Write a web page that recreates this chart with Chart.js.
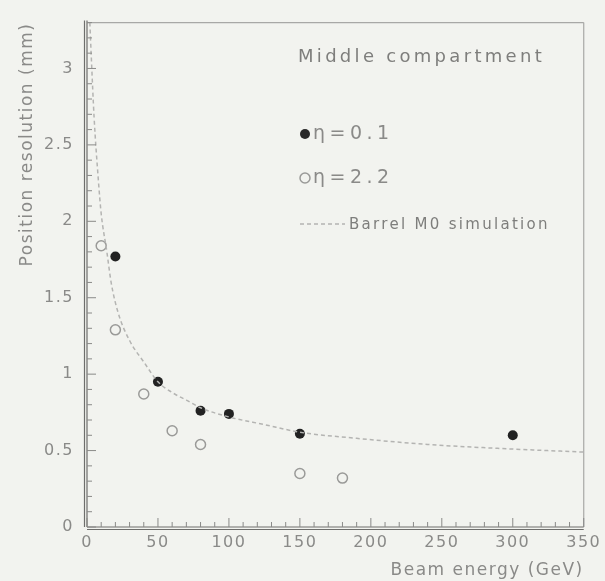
<!DOCTYPE html>
<html>
<head>
<meta charset="utf-8">
<script src="https://cdn.jsdelivr.net/npm/chart.js@4"></script>
<style>
  html, body { margin: 0; padding: 0; background: #f2f3ef; }
  canvas { display: block; }
</style>
</head>
<body>
<canvas id="myChart" width="605" height="581"></canvas>
<script>
// eta = 0.1 (filled points)
const energyFilled = [20, 50, 80, 100, 150, 300];
const resFilled = [1.77, 0.95, 0.76, 0.74, 0.61, 0.60];

// eta = 2.2 (open points)
const energyOpen = [10, 20, 40, 60, 80, 150, 180];
const resOpen = [1.84, 1.29, 0.87, 0.63, 0.54, 0.35, 0.32];

// Barrel M0 simulation curve
const simEnergy = [2, 3, 5, 8, 10, 14, 17, 22, 30, 40, 50, 60, 70, 80, 100, 125, 150, 190, 240, 300, 350];
const simRes = [3.30, 3.08, 2.68, 2.27, 2.05, 1.80, 1.60, 1.40, 1.22, 1.08, 0.95, 0.88, 0.83, 0.78, 0.72, 0.67, 0.62, 0.58, 0.54, 0.51, 0.49];

const xTicks = [0, 50, 100, 150, 200, 250, 300, 350];
const yTicks = [0, 0.5, 1, 1.5, 2, 2.5, 3];

const toPoints = (xs, ys) => xs.map((x, i) => ({x: x, y: ys[i]}));

const textColor = '#8a8a88';
const fontFamily = '"DejaVu Sans", sans-serif';

// frame, inner ticks and the legend box text
const framePlugin = {
    id: 'frame',
    beforeDraw(chart) {
        // canvas resize resets the context, so set spacing here
        chart.ctx.letterSpacing = '1.5px';
    },
    afterDraw(chart) {
        const ctx = chart.ctx;
        const a = chart.chartArea;
        const xs = chart.scales.x, ys = chart.scales.y;
        ctx.save();
        ctx.letterSpacing = '0px';
        // frame
        ctx.strokeStyle = '#a8a8a6';
        ctx.lineWidth = 1.2;
        ctx.beginPath();
        ctx.moveTo(a.left, a.top); ctx.lineTo(a.right, a.top);
        ctx.moveTo(a.right, a.top); ctx.lineTo(a.right, a.bottom);
        ctx.stroke();
        ctx.strokeStyle = '#6e6e6c';
        ctx.beginPath();
        ctx.moveTo(a.left, a.top - 2); ctx.lineTo(a.left, a.bottom);
        ctx.moveTo(a.left - 2.5, a.top - 2); ctx.lineTo(a.left - 2.5, a.bottom);
        ctx.moveTo(a.left, a.bottom); ctx.lineTo(a.right, a.bottom);
        ctx.moveTo(a.left, a.bottom + 2.5); ctx.lineTo(a.right, a.bottom + 2.5);
        ctx.stroke();
        // ticks drawn inside the frame
        ctx.strokeStyle = '#8a8a88';
        ctx.lineWidth = 1;
        ctx.beginPath();
        for (let v = 0; v <= 350; v += 10) {
            const px = xs.getPixelForValue(v);
            const len = v % 50 === 0 ? 9 : 5;
            ctx.moveTo(px, a.bottom); ctx.lineTo(px, a.bottom - len);
        }
        for (let k = 0; k <= 33; k++) {
            const py = ys.getPixelForValue(k / 10);
            const len = k % 5 === 0 ? 9 : 5;
            ctx.moveTo(a.left, py); ctx.lineTo(a.left + len, py);
        }
        ctx.stroke();

        // legend
        ctx.fillStyle = '#7e7e7c';
        ctx.textBaseline = 'middle';
        ctx.textAlign = 'left';
        ctx.font = '18px ' + fontFamily;
        ctx.letterSpacing = '3.3px';
        ctx.fillText('Middle compartment', 298, 57);

        ctx.fillStyle = '#2a2a2a';
        ctx.beginPath(); ctx.arc(305, 134, 5, 0, Math.PI * 2); ctx.fill();
        ctx.strokeStyle = '#9a9a98'; ctx.lineWidth = 1.5;
        ctx.beginPath(); ctx.arc(305, 178, 5, 0, Math.PI * 2); ctx.stroke();

        ctx.fillStyle = '#8a8a88';
        ctx.font = '19px ' + fontFamily;
        ctx.letterSpacing = '4.5px';
        ctx.fillText('\u03b7=0.1', 313, 134);
        ctx.fillText('\u03b7=2.2', 313, 178);

        ctx.strokeStyle = '#b4b4b2'; ctx.lineWidth = 1.5;
        ctx.setLineDash([4, 3]);
        ctx.beginPath(); ctx.moveTo(300, 224); ctx.lineTo(345, 224); ctx.stroke();
        ctx.setLineDash([]);
        ctx.font = '15px ' + fontFamily;
        ctx.letterSpacing = '2.3px';
        ctx.fillStyle = '#7e7e7c';
        ctx.fillText('Barrel M0 simulation', 349, 225);
        ctx.restore();
    }
};

const ctx = document.getElementById('myChart').getContext('2d');
const chart = new Chart(ctx, {
    type: 'scatter',
    data: {
        datasets: [{
            label: 'Barrel M0 simulation',
            data: toPoints(simEnergy, simRes),
            showLine: true,
            borderColor: '#b4b4b2',
            borderWidth: 1.5,
            borderDash: [4, 3],
            cubicInterpolationMode: 'monotone',
            pointRadius: 0
        }, {
            label: '\u03b7=0.1',
            data: toPoints(energyFilled, resFilled),
            backgroundColor: '#222222',
            borderColor: '#222222',
            pointRadius: 5,
            borderWidth: 0
        }, {
            label: '\u03b7=2.2',
            data: toPoints(energyOpen, resOpen),
            backgroundColor: 'rgba(0,0,0,0)',
            borderColor: '#9a9a98',
            pointRadius: 5,
            borderWidth: 1.5
        }]
    },
    options: {
        responsive: false,
        animation: false,
        devicePixelRatio: 1,
        layout: { padding: { top: 16, right: 18, left: 0, bottom: 0 } },
        plugins: {
            legend: { display: false },
            tooltip: { enabled: false }
        },
        scales: {
            x: {
                type: 'linear',
                min: 0,
                max: 350,
                afterBuildTicks: axis => { axis.ticks = xTicks.map(v => ({value: v})); },
                afterFit: scale => { scale.height = 54; },
                grid: { display: false, drawTicks: false },
                border: { display: false },
                ticks: { color: textColor, font: { family: fontFamily, size: 16 }, padding: 6, maxRotation: 0 },
                title: {
                    display: true,
                    text: 'Beam energy (GeV)',
                    align: 'end',
                    color: textColor,
                    font: { family: fontFamily, size: 17 },
                    padding: { top: 2, bottom: 0 }
                }
            },
            y: {
                type: 'linear',
                min: 0,
                max: 3.3,
                afterBuildTicks: axis => { axis.ticks = yTicks.map(v => ({value: v})); },
                afterFit: scale => { scale.width = 87; },
                grid: { display: false, drawTicks: false },
                border: { display: false },
                ticks: {
                    color: textColor,
                    font: { family: fontFamily, size: 16 },
                    padding: 13,
                    callback: v => String(v)
                },
                title: {
                    display: true,
                    text: 'Position resolution (mm)',
                    align: 'end',
                    color: textColor,
                    font: { family: fontFamily, size: 17 },
                    padding: { top: 17, bottom: 0 }
                }
            }
        }
    },
    plugins: [framePlugin]
});
</script>
</body>
</html>
